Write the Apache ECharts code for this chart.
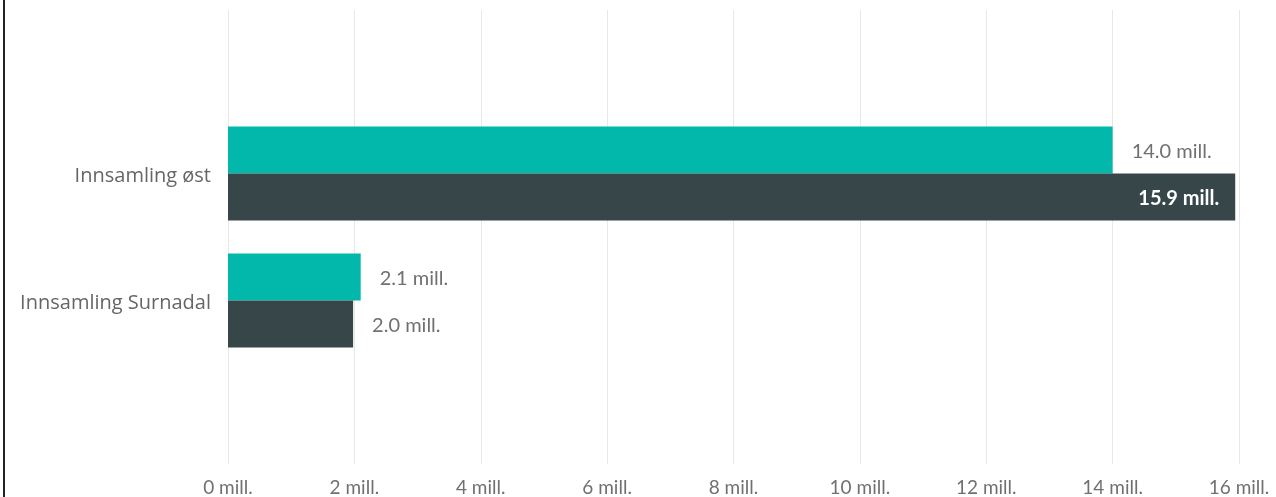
<!DOCTYPE html>
<html><head><meta charset="utf-8">
<script src="https://cdn.jsdelivr.net/npm/echarts@6/dist/echarts.min.js"></script>
<style>
html,body{margin:0;padding:0;background:#fff;}
#c{width:1276px;height:497px;position:relative;}
#edge{position:absolute;left:3px;top:0;width:2px;height:497px;background:#222;}
</style></head>
<body>
<div id="c"></div>
<div id="edge"></div>
<script>
const categories = ['Innsamling øst', 'Innsamling Surnadal'];
const seriesA = [14.0, 2.1];
const seriesB = [15.94, 1.98];
const xTicks = [0, 2, 4, 6, 8, 10, 12, 14, 16];

const CAT_FONT = '"Open Sans", "Noto Sans", sans-serif';
const NUM_FONT = 'Lato';
const chart = echarts.init(document.getElementById('c'));
const fmt = v => v.toFixed(1) + ' mill.';
chart.setOption({
  animation: false,
  grid: [
    {left: 228, right: 37, top: 10, bottom: 32},
    {left: 228, right: 37, top: 110, height: 254}
  ],
  xAxis: [
    {gridIndex: 0, type: 'value', min: xTicks[0], max: xTicks[xTicks.length-1], interval: 2,
     axisLine: {show: false}, axisTick: {show: false},
     splitLine: {lineStyle: {color: '#e8e8e8', width: 1}},
     axisLabel: {formatter: v => v + ' mill.', color: '#707070', fontSize: 19, fontFamily: NUM_FONT, margin: 14}},
    {gridIndex: 1, type: 'value', min: xTicks[0], max: xTicks[xTicks.length-1], show: false}
  ],
  yAxis: [
    {gridIndex: 0, type: 'value', show: false},
    {gridIndex: 1, type: 'category', data: categories, inverse: true,
     axisLine: {show: false}, axisTick: {show: false},
     axisLabel: {margin: 17, formatter: v => '{c|' + v + '}',
       rich: {c: {color: '#666', fontSize: 20, fontFamily: CAT_FONT, padding: [6, 0, 0, 0]}}}}
  ],
  series: [
    {type: 'bar', xAxisIndex: 1, yAxisIndex: 1, data: seriesA, barWidth: 47, barGap: '0%',
     itemStyle: {color: '#01B8AA'},
     label: {show: true, position: 'right', distance: 19, offset: [0, 2], formatter: p => fmt(p.value), color: '#707070', fontSize: 20, fontFamily: NUM_FONT}},
    {type: 'bar', xAxisIndex: 1, yAxisIndex: 1, data: seriesB.map((v, i) => i === 0 ? {value: v, label: {position: 'insideRight', distance: 16, color: '#fff', fontWeight: 'bold'}} : v),
     barWidth: 47, barGap: '0%',
     itemStyle: {color: '#374649'},
     label: {show: true, position: 'right', distance: 19, offset: [0, 2], formatter: p => fmt(p.value), color: '#707070', fontSize: 20, fontFamily: NUM_FONT}}
  ]
});
</script>
</body></html>
